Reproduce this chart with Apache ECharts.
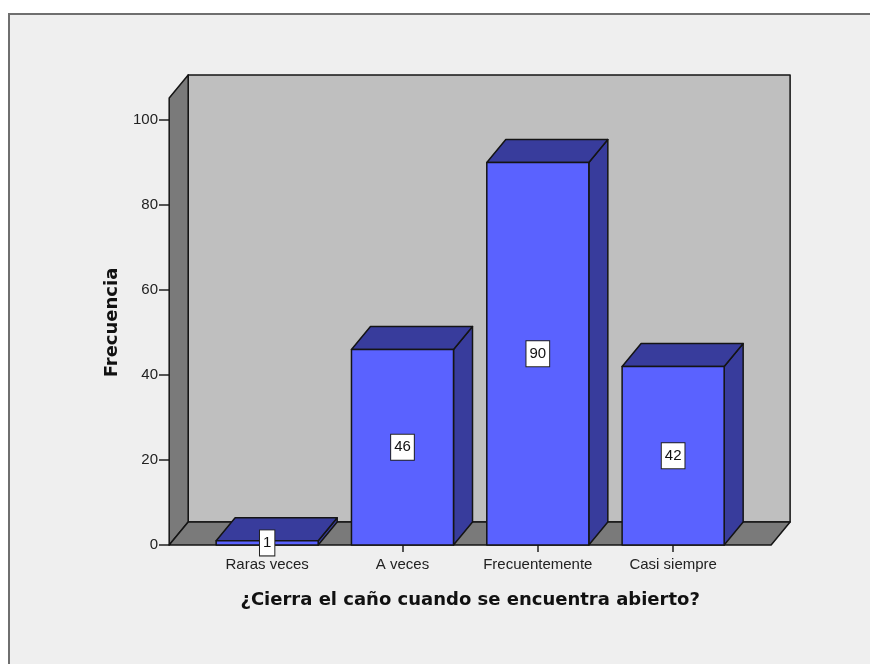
<!DOCTYPE html>
<html>
<head>
<meta charset="utf-8">
<style>html,body{margin:0;padding:0;background:#fff}#c{width:870px;height:664px}</style>
<script src="https://cdn.jsdelivr.net/npm/echarts@6/dist/echarts.min.js"></script>
</head>
<body>
<div id="c"></div>
<script>
const categories = ['Raras veces', 'A veces', 'Frecuentemente', 'Casi siempre'];
const frequencies = [1, 46, 90, 42];
const xTitle = '¿Cierra el caño cuando se encuentra abierto?';
const yTitle = 'Frecuencia';
const wallTopValue = 105.2;

const DEPTH_X = 19, DEPTH_Y = -23;
const EDGE = '#141414';
const solid = (fill, lw) => ({ fill: fill, stroke: EDGE, lineWidth: lw || 1.5, lineJoin: 'round' });

function poly(points, fill) {
  return { type: 'polygon', shape: { points: points }, style: solid(fill) };
}

function renderRoom(params, api) {
  const band = api.size([1, 0])[0];
  const y0 = api.coord([0, 0])[1];
  const yT = api.coord([0, wallTopValue])[1];
  const xL = api.coord([0, 0])[0] - band * 0.724;
  const xR = api.coord([categories.length - 1, 0])[0] + band * 0.724;
  const dx = DEPTH_X, dy = DEPTH_Y;
  return {
    type: 'group',
    children: [
      poly([[xL + dx, yT + dy], [xR + dx, yT + dy], [xR + dx, y0 + dy], [xL + dx, y0 + dy]], '#bfbfbf'),
      poly([[xL, yT], [xL + dx, yT + dy], [xL + dx, y0 + dy], [xL, y0]], '#7a7a7a'),
      poly([[xL, y0], [xL + dx, y0 + dy], [xR + dx, y0 + dy], [xR, y0]], '#7a7a7a')
    ]
  };
}

function renderBar(params, api) {
  const i = api.value(0), v = api.value(1);
  const base = api.coord([i, 0]);
  const top = api.coord([i, v]);
  const half = api.size([1, 0])[0] * 0.377;
  const l = base[0] - half, r = base[0] + half, y0 = base[1], y1 = top[1];
  const dx = DEPTH_X, dy = DEPTH_Y;
  return {
    type: 'group',
    children: [
      poly([[r, y1], [r + dx, y1 + dy], [r + dx, y0 + dy], [r, y0]], '#383c9c'),
      poly([[l, y1], [l + dx, y1 + dy], [r + dx, y1 + dy], [r, y1]], '#383c9c'),
      poly([[l, y1], [r, y1], [r, y0], [l, y0]], '#5a62ff')
    ]
  };
}

function renderLabel(params, api) {
  const i = api.value(0), v = api.value(1);
  const p = api.coord([i, v / 2]);
  return {
    type: 'text',
    x: p[0], y: p[1],
    style: {
      text: String(v),
      fontFamily: 'Liberation Sans', fontSize: 15, fill: '#111',
      align: 'center', verticalAlign: 'middle',
      backgroundColor: '#fff', borderColor: '#222', borderWidth: 1,
      padding: [5, 3, 5, 3]
    }
  };
}

const chart = echarts.init(document.getElementById('c'), null, { renderer: 'canvas' });
const barData = categories.map((c, i) => [i, frequencies[i]]);
const tickFont = { fontFamily: 'Liberation Sans', color: '#222' };
const titleFont = { fontFamily: 'DejaVu Sans', fontWeight: 'bold', fontSize: 18, color: '#111' };

chart.setOption({
  animation: false,
  backgroundColor: '#fff',
  graphic: [{
    type: 'rect', z: -10, silent: true,
    shape: { x: 9, y: 14, width: 900, height: 700 },
    style: { fill: '#efefef', stroke: '#6f6f6f', lineWidth: 2 }
  }],
  grid: { left: 199.5, width: 541.3, top: 120, height: 425, containLabel: false },
  xAxis: {
    type: 'category',
    data: categories,
    axisLine: { show: false },
    axisTick: { show: true, alignWithLabel: true, length: 7, lineStyle: { color: '#222', width: 1.5 } },
    axisLabel: Object.assign({ margin: 12, interval: 0, fontSize: 15 }, tickFont),
    splitLine: { show: false },
    name: xTitle,
    nameLocation: 'middle',
    nameGap: 46,
    nameTextStyle: titleFont
  },
  yAxis: {
    type: 'value',
    min: 0, max: 100, interval: 20,
    offset: 30.5,
    axisLine: { show: false },
    axisTick: { show: true, length: 10, lineStyle: { color: '#222', width: 1.5 } },
    axisLabel: Object.assign({ margin: 11, fontSize: 15, padding: [3, 0, 0, 0] }, tickFont),
    splitLine: { show: false },
    name: yTitle,
    nameLocation: 'middle',
    nameGap: 48,
    nameRotate: 90,
    nameTextStyle: Object.assign({ padding: [0, 0, 0, 20] }, titleFont)
  },
  series: [
    { type: 'custom', name: 'room', coordinateSystem: 'cartesian2d', z: 1, silent: true, clip: false,
      data: [[0, 0]], encode: { x: 0, y: 1 }, renderItem: renderRoom },
    { type: 'custom', name: 'Frecuencia', coordinateSystem: 'cartesian2d', z: 2, silent: true, clip: false,
      data: barData, encode: { x: 0, y: 1 }, renderItem: renderBar },
    { type: 'custom', name: 'labels', coordinateSystem: 'cartesian2d', z: 3, silent: true, clip: false,
      data: barData, encode: { x: 0, y: 1 }, renderItem: renderLabel }
  ]
});
</script>
</body>
</html>
